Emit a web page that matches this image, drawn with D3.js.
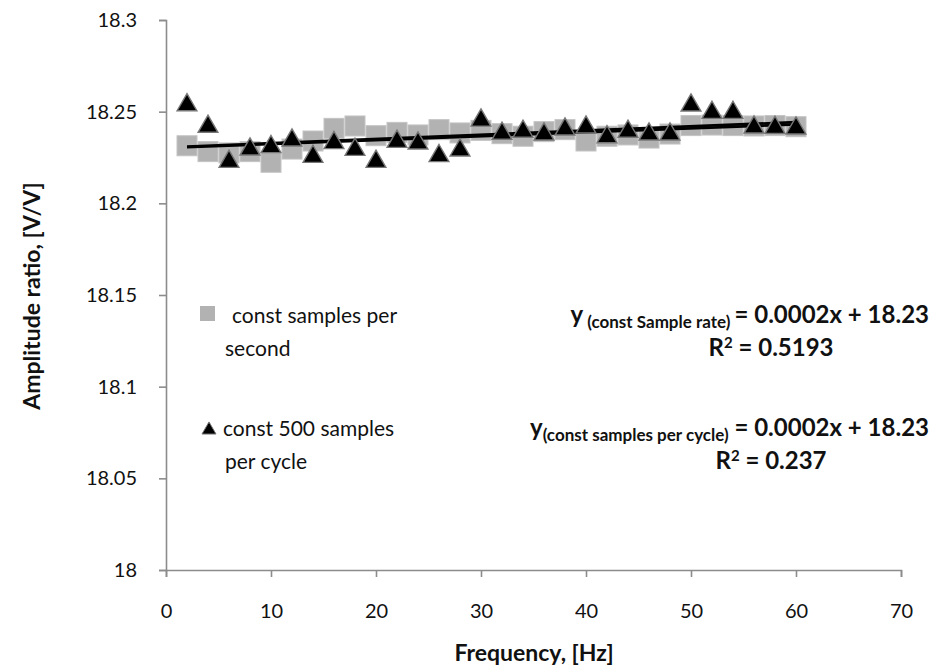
<!DOCTYPE html>
<html>
<head>
<meta charset="utf-8">
<script src="https://cdn.jsdelivr.net/npm/d3@7"></script>
<style>
  html, body { margin: 0; padding: 0; background: #fff; }
  svg { display: block; font-family: Lato, "Open Sans", sans-serif; }
</style>
</head>
<body>
<svg id="chart" width="934" height="670"></svg>
<script>
// Frequency sweep, 2..60 Hz
const frequencies = [2, 4, 6, 8, 10, 12, 14, 16, 18, 20, 22, 24, 26, 28, 30,
                     32, 34, 36, 38, 40, 42, 44, 46, 48, 50, 52, 54, 56, 58, 60];

// Amplitude ratio with a constant sample rate
const constSampleRate = [18.2314, 18.2282, 18.2275, 18.2282, 18.2224, 18.2296, 18.2340, 18.2409, 18.2422, 18.2369,
                         18.2387, 18.2373, 18.2402, 18.2384, 18.2398, 18.2380, 18.2366, 18.2391, 18.2402, 18.2340,
                         18.2366, 18.2373, 18.2356, 18.2378, 18.2424, 18.2427, 18.2424, 18.2422, 18.2424, 18.2418];

// Amplitude ratio with 500 samples per cycle
const constSamplesPerCycle = [18.2542, 18.2424, 18.2233, 18.2300, 18.2313, 18.2349, 18.2260, 18.2335, 18.2298, 18.2233,
                              18.2342, 18.2333, 18.2264, 18.2295, 18.2458, 18.2386, 18.2397, 18.2382, 18.2409, 18.2420,
                              18.2367, 18.2397, 18.2382, 18.2382, 18.2540, 18.2500, 18.2500, 18.2420, 18.2418, 18.2415];

const xTicks = [0, 10, 20, 30, 40, 50, 60, 70];
const yTicks = [18, 18.05, 18.1, 18.15, 18.2, 18.25, 18.3];

const svg = d3.select("#chart");
const plotLeft = 166, plotRight = 901, plotTop = 20, plotBottom = 570;

const x = d3.scaleLinear().domain([0, 70]).range([plotLeft, plotRight]);
const y = d3.scaleLinear().domain([18, 18.3]).range([plotBottom, plotTop]);

const axisColor = "#8c8c8c";

// Y axis
const yAxis = svg.append("g")
  .attr("transform", `translate(${plotLeft},0)`)
  .call(d3.axisLeft(y).tickValues(yTicks).tickSize(7).tickPadding(22)
        .tickFormat(d => String(+d.toFixed(2))));
// X axis
const xAxis = svg.append("g")
  .attr("transform", `translate(0,${plotBottom})`)
  .call(d3.axisBottom(x).tickValues(xTicks).tickSize(7).tickPadding(27).tickFormat(d3.format("d")));

[yAxis, xAxis].forEach(g => {
  g.select(".domain").attr("stroke", axisColor).attr("stroke-width", 1.6);
  g.selectAll(".tick line").attr("stroke", axisColor).attr("stroke-width", 1.6);
  g.selectAll(".tick text").attr("fill", "#111").style("font-size", "20px")
    .style("font-family", "Lato, 'Open Sans', sans-serif");
});

// Least-squares trendline
function linearFit(xs, ys) {
  const mx = d3.mean(xs), my = d3.mean(ys);
  let sxy = 0, sxx = 0;
  xs.forEach((v, i) => { sxy += (v - mx) * (ys[i] - my); sxx += (v - mx) * (v - mx); });
  const slope = sxy / sxx;
  return { slope, intercept: my - slope * mx };
}

const sqData = frequencies.map((f, i) => ({ f, v: constSampleRate[i] }));
const triData = frequencies.map((f, i) => ({ f, v: constSamplesPerCycle[i] }));

// Squares: constant samples per second
const sq = 20;
svg.append("g").selectAll("rect").data(sqData).join("rect")
  .attr("x", d => x(d.f) - sq / 2)
  .attr("y", d => y(d.v) - sq / 2)
  .attr("width", sq).attr("height", sq)
  .attr("fill", "#b2b2b2")
  .attr("stroke", "#c4c4c4").attr("stroke-width", 1);

// Trendlines for both series
const lineGen = d3.line().x(d => x(d[0])).y(d => y(d[1]));
[constSampleRate, constSamplesPerCycle].forEach(vals => {
  const fit = linearFit(frequencies, vals);
  const x0 = d3.min(frequencies), x1 = d3.max(frequencies);
  svg.append("path")
    .datum([[x0, fit.intercept + fit.slope * x0], [x1, fit.intercept + fit.slope * x1]])
    .attr("d", lineGen)
    .attr("fill", "none").attr("stroke", "#000").attr("stroke-width", 2.6);
});

// Triangles: constant 500 samples per cycle
const tri = d3.symbol().type(d3.symbolTriangle).size(170);
svg.append("g").selectAll("path").data(triData).join("path")
  .attr("d", tri)
  .attr("transform", d => `translate(${x(d.f)},${y(d.v) + 1})`)
  .attr("fill", "#000")
  .attr("stroke", "#777").attr("stroke-width", 1.4);

// Legend
const legend = svg.append("g").style("font-size", "21px").attr("fill", "#111");
legend.append("rect").attr("x", 200).attr("y", 306).attr("width", 15).attr("height", 15)
  .attr("fill", "#b2b2b2");
legend.append("text").attr("x", 232).attr("y", 323).text("const samples per");
legend.append("text").attr("x", 225).attr("y", 356).text("second");
legend.append("path").attr("d", d3.symbol().type(d3.symbolTriangle).size(85))
  .attr("transform", "translate(209,430)").attr("fill", "#000").attr("stroke", "#777").attr("stroke-width", 1);
legend.append("text").attr("x", 223).attr("y", 436).text("const 500 samples");
legend.append("text").attr("x", 225).attr("y", 469).text("per cycle");

// Trendline equations
const eq = svg.append("g").style("font-weight", "bold").attr("fill", "#111");
function equation(yPos, sub, rhs) {
  const t = eq.append("text").attr("x", 929).attr("y", yPos).attr("text-anchor", "end")
    .style("font-size", "24px");
  t.append("tspan").text("y");
  t.append("tspan").attr("dy", 5).style("font-size", "17px").text(sub);
  t.append("tspan").attr("dy", -5).text(rhs);
}
equation(323, " (const Sample rate) ", "= 0.0002x + 18.23");
equation(436, "(const samples per cycle)", " = 0.0002x + 18.23");

function rsq(yPos, val) {
  const t = eq.append("text").attr("x", 771).attr("y", yPos).attr("text-anchor", "middle")
    .style("font-size", "24px");
  t.append("tspan").text("R");
  t.append("tspan").attr("dy", -8).style("font-size", "15px").text("2");
  t.append("tspan").attr("dy", 8).text(" = " + val);
}
rsq(356, "0.5193");
rsq(469, "0.237");

// Axis titles
svg.append("text").attr("x", 534).attr("y", 661).attr("text-anchor", "middle")
  .style("font-size", "23px").style("font-weight", "bold").attr("fill", "#111")
  .text("Frequency, [Hz]");
svg.append("text").attr("transform", "translate(40,296) rotate(-90)").attr("text-anchor", "middle")
  .style("font-size", "23px").style("font-weight", "bold").attr("fill", "#111")
  .text("Amplitude ratio, [V/V]");
</script>
</body>
</html>
